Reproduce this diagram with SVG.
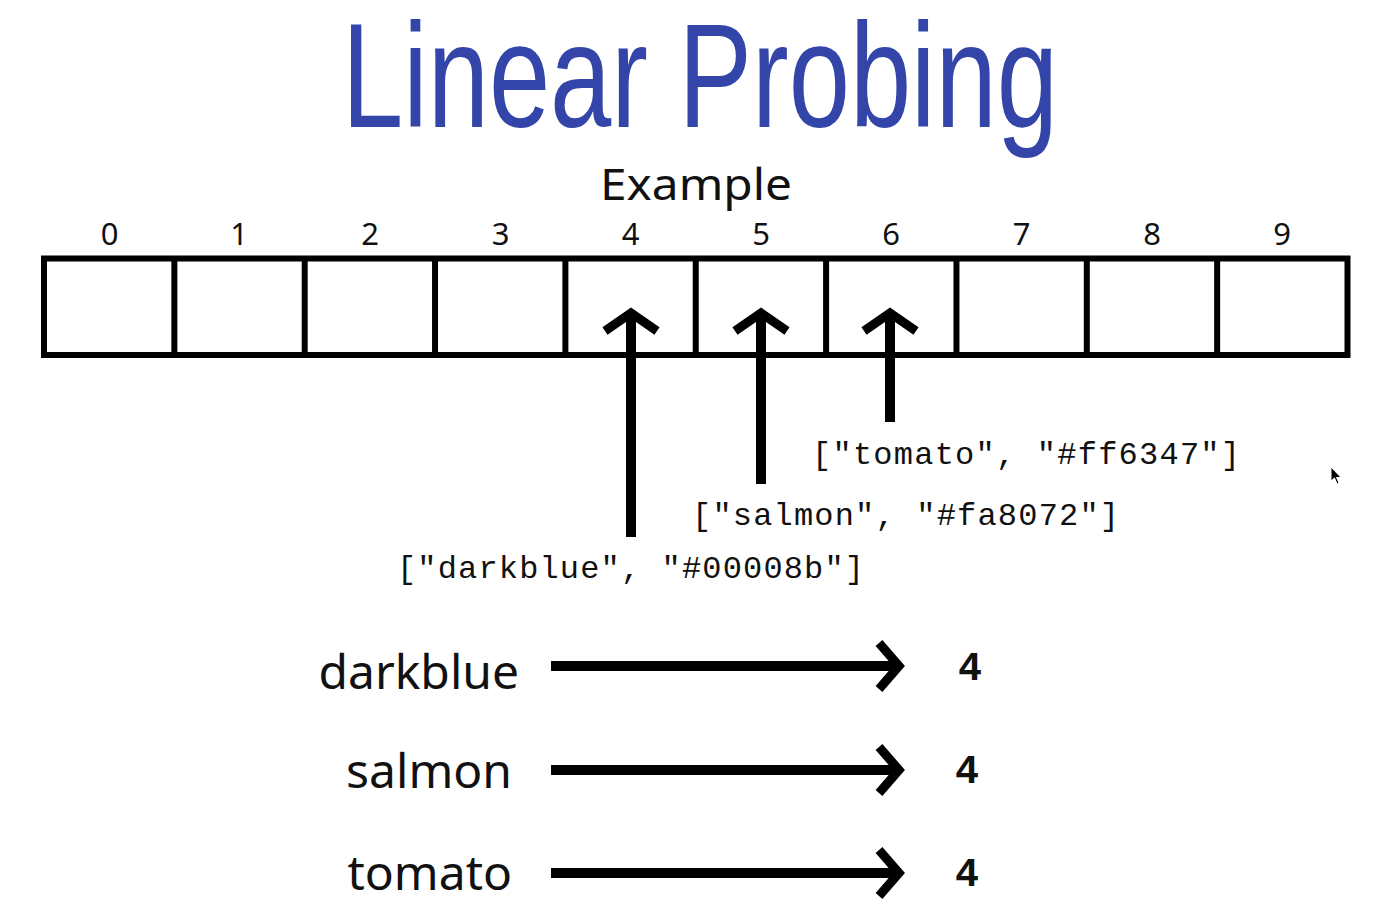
<svg xmlns="http://www.w3.org/2000/svg" width="1397" height="918" viewBox="0 0 1397 918">
  <style>
    .title { font-family: "Liberation Sans", Arial, sans-serif; font-size: 148px; fill: #3445a9; }
    .sub { font-family: "Noto Sans", "Open Sans", sans-serif; font-size: 44px; fill: #111; }
    .idx { font-family: "Noto Sans", "Open Sans", sans-serif; font-size: 31px; fill: #111; text-anchor: middle; }
    .code { font-family: "Liberation Mono", "Courier New", monospace; font-size: 32px; fill: #111; }
    .key { font-family: "Noto Sans", "Open Sans", sans-serif; font-size: 48px; fill: #111; text-anchor: end; }
    .num { font-family: "Liberation Mono", "Courier New", monospace; font-size: 40px; font-weight: bold; fill: #111; }
    .cell { fill: #fff; stroke: #000; stroke-width: 6; }
    .shaft { stroke: #000; stroke-width: 10; fill: none; }
    .head { stroke: #000; stroke-width: 9; fill: none; stroke-linejoin: miter; stroke-miterlimit: 10; }
  </style>

  <rect width="1397" height="918" fill="#fff"/>

  <g id="title">
    <text class="title" x="342" y="127" textLength="716" lengthAdjust="spacingAndGlyphs">Linear Probing</text>
  </g>

  <g id="subtitle">
    <text class="sub" x="600" y="200" textLength="192" lengthAdjust="spacingAndGlyphs">Example</text>
  </g>

  <!-- hash table: ten slots -->
  <g id="table">
    <rect class="cell" x="44" y="258.5" width="1303.5" height="96.5"/>
    <path d="M174.35 258.5V355 M304.7 258.5V355 M435.05 258.5V355 M565.4 258.5V355 M695.75 258.5V355 M826.1 258.5V355 M956.45 258.5V355 M1086.8 258.5V355 M1217.15 258.5V355" stroke="#000" stroke-width="6"/>
  </g>

  <g id="indices">
    <text class="idx" x="109.5" y="245">0</text>
    <text class="idx" x="239" y="245">1</text>
    <text class="idx" x="370" y="245">2</text>
    <text class="idx" x="500.5" y="245">3</text>
    <text class="idx" x="630.5" y="245">4</text>
    <text class="idx" x="761" y="245">5</text>
    <text class="idx" x="891" y="245">6</text>
    <text class="idx" x="1021.5" y="245">7</text>
    <text class="idx" x="1152" y="245">8</text>
    <text class="idx" x="1282" y="245">9</text>
  </g>

  <!-- entries placed into slots -->
  <g id="entry-darkblue">
    <text class="code" x="397" y="578" textLength="467" lengthAdjust="spacing">["darkblue", "#00008b"]</text>
  </g>
  <g id="entry-salmon">
    <text class="code" x="692" y="525" textLength="427" lengthAdjust="spacing">["salmon", "#fa8072"]</text>
  </g>
  <g id="entry-tomato">
    <text class="code" x="812" y="464" textLength="428" lengthAdjust="spacing">["tomato", "#ff6347"]</text>
  </g>

  <!-- hash results -->
  <g id="key-darkblue">
    <text class="key" x="519" y="689">darkblue</text>
    <text class="num" x="958" y="680">4</text>
  </g>
  <g id="key-salmon">
    <text class="key" x="512" y="788">salmon</text>
    <text class="num" x="955" y="783">4</text>
  </g>
  <g id="key-tomato">
    <text class="key" x="512" y="890">tomato</text>
    <text class="num" x="955" y="886">4</text>
  </g>

  <g id="connectors">
    <!-- entry to slot -->
    <path class="shaft" d="M631 314V537"/>
    <path class="head" d="M605 331L631 313L657 331"/>
    <path class="shaft" d="M761 314V484"/>
    <path class="head" d="M735 331L761 313L787 331"/>
    <path class="shaft" d="M890 314V422"/>
    <path class="head" d="M864 331L890 313L916 331"/>
    <!-- key to hash -->
    <path class="shaft" d="M551 666H898"/>
    <path class="head" d="M879 643L899 666L879 689" stroke-width="10"/>
    <path class="shaft" d="M551 770H898"/>
    <path class="head" d="M879 747L899 770L879 793" stroke-width="10"/>
    <path class="shaft" d="M551 873H898"/>
    <path class="head" d="M879 850L899 873L879 896" stroke-width="10"/>
  </g>

  <!-- pointer -->
  <g id="pointer">
    <path d="M1331 467L1331 481L1334.5 478L1337 484L1339 483L1336.5 477.5L1341 477.5Z" fill="#000" stroke="#fff" stroke-width="1"/>
  </g>
</svg>
